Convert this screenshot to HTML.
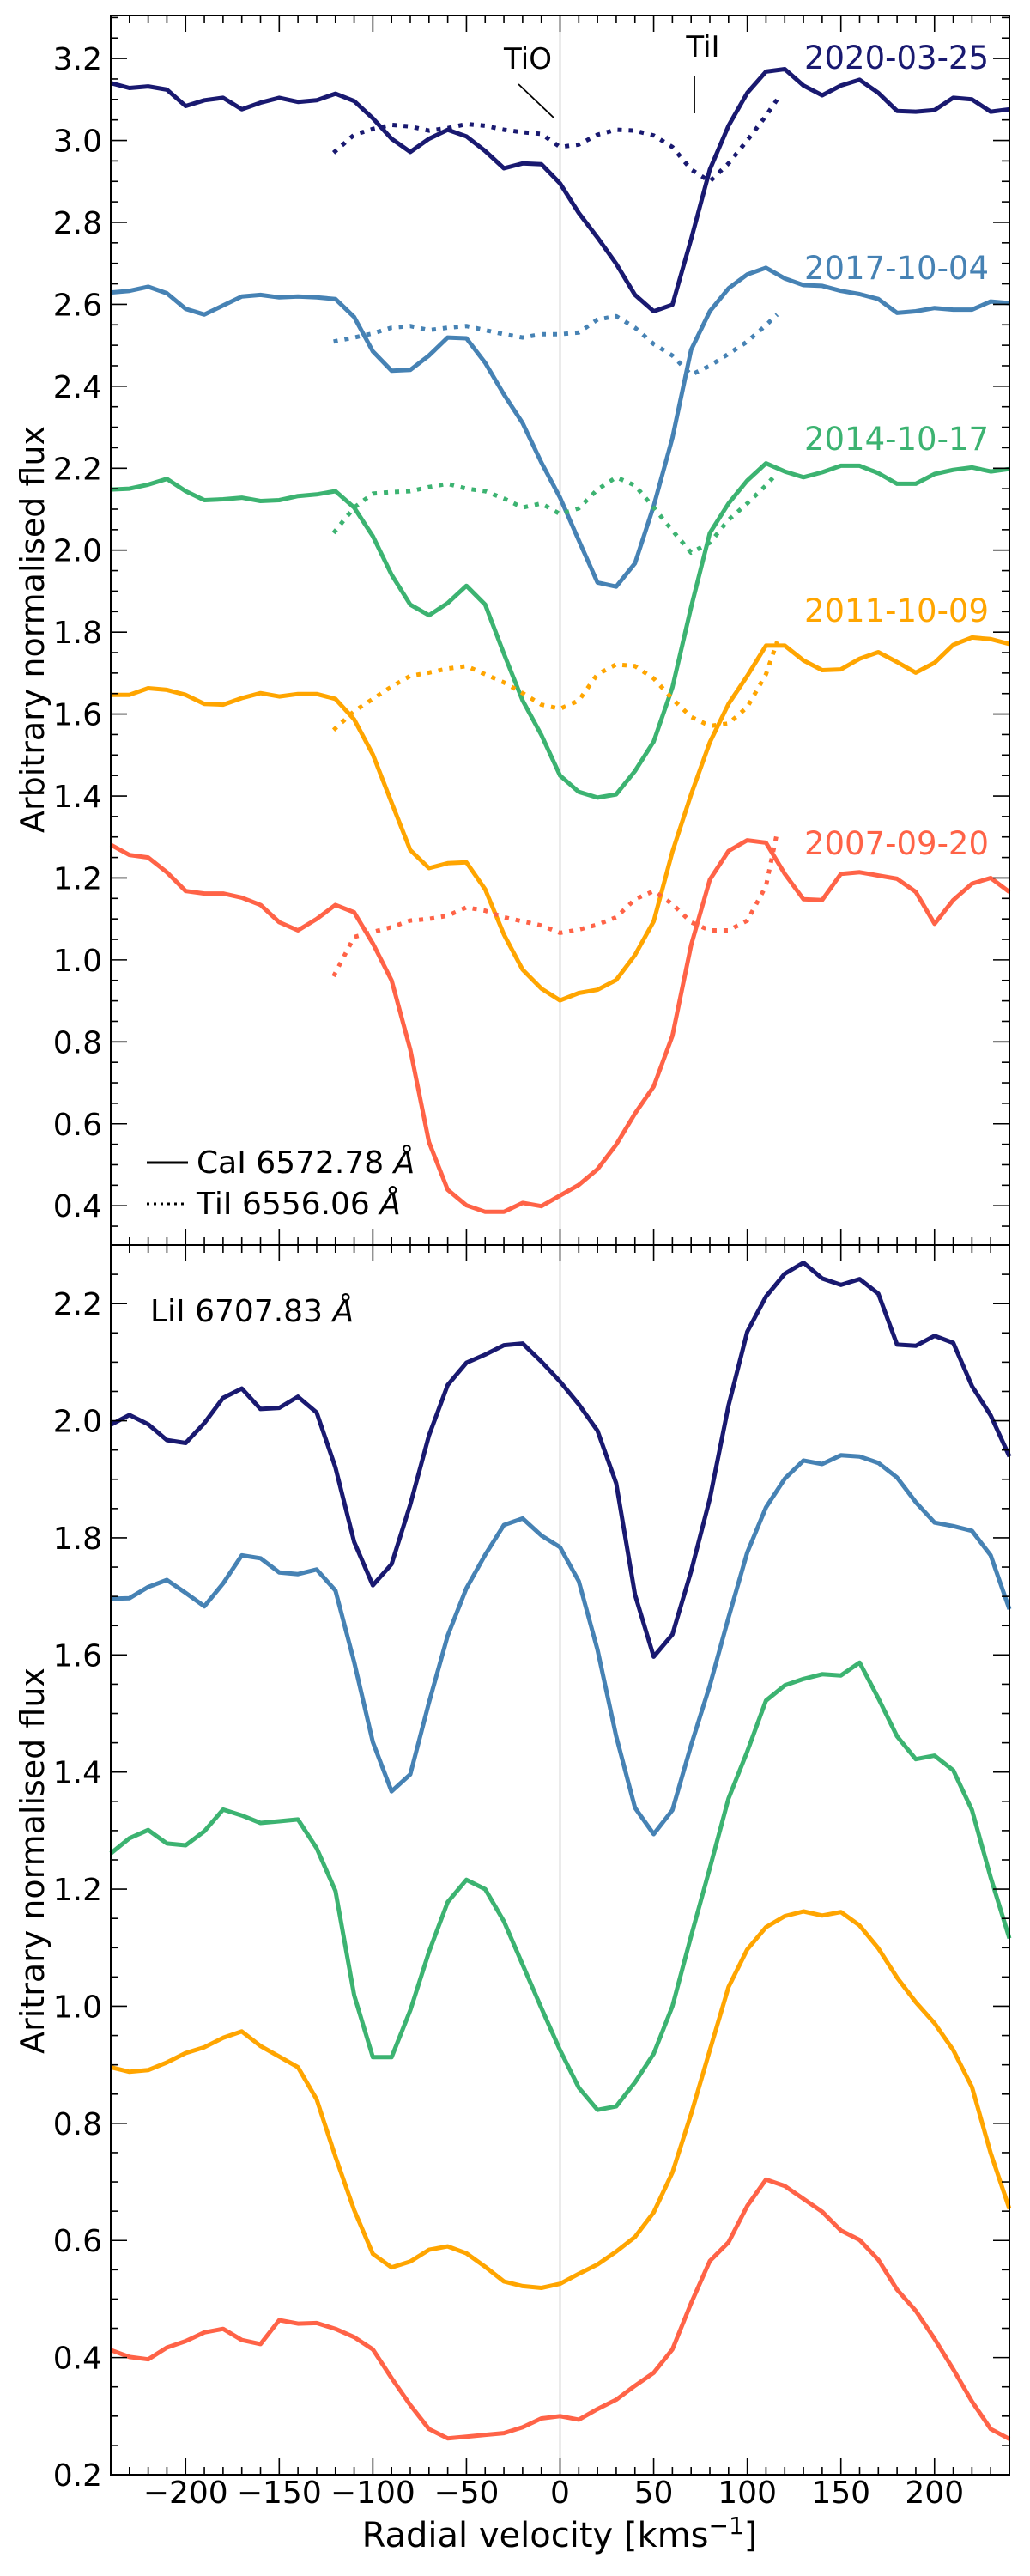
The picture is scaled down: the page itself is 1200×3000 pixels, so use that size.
<!DOCTYPE html>
<html><head><meta charset="utf-8"><style>
html,body{margin:0;padding:0;background:#fff;}
svg{display:block;font-family:"DejaVu Sans","Liberation Sans",sans-serif;}
</style></head><body>
<svg id="chart" width="1200" height="3000" viewBox="0 0 1200 3000" xmlns="http://www.w3.org/2000/svg">
<rect x="0" y="0" width="1200" height="3000" fill="#fff"/>
<g id="plots"></g>
</svg>
<script>
// ---- data ----
const velGrid = [-240,-230,-220,-210,-200,-190,-180,-170,-160,-150,-140,-130,-120,-110,-100,-90,-80,-70,-60,-50,-40,-30,-20,-10,0,10,20,30,40,50,60,70,80,90,100,110,120,130,140,150,160,170,180,190,200,210,220,230,240];
const velTi = [-121,-110,-100,-90,-80,-70,-60,-50,-40,-30,-20,-10,0,10,20,30,40,50,60,70,80,90,100,110,116];
const dates = ["2020-03-25","2017-10-04","2014-10-17","2011-10-09","2007-09-20"];
const colors = ["#191970","#4682b4","#3cb371","#ffa500","#ff6347"];

const ca2020 = [3.14,3.128,3.132,3.124,3.084,3.098,3.104,3.076,3.092,3.104,3.094,3.098,3.114,3.096,3.054,3.004,2.972,3.004,3.026,3.01,2.974,2.932,2.944,2.942,2.895,2.823,2.763,2.699,2.623,2.583,2.599,2.759,2.929,3.036,3.116,3.168,3.174,3.134,3.11,3.134,3.148,3.116,3.072,3.07,3.074,3.104,3.1,3.07,3.076];
const ca2017 = [2.629,2.633,2.643,2.627,2.589,2.575,2.597,2.619,2.623,2.617,2.619,2.617,2.613,2.569,2.485,2.438,2.44,2.475,2.519,2.517,2.457,2.38,2.31,2.214,2.128,2.024,1.921,1.911,1.968,2.108,2.274,2.489,2.583,2.639,2.673,2.689,2.663,2.647,2.645,2.633,2.625,2.613,2.579,2.583,2.591,2.587,2.587,2.607,2.603];
const ca2014 = [2.148,2.15,2.16,2.174,2.144,2.122,2.124,2.128,2.12,2.122,2.132,2.136,2.144,2.104,2.034,1.94,1.867,1.841,1.871,1.913,1.867,1.747,1.633,1.549,1.45,1.41,1.396,1.404,1.461,1.533,1.665,1.861,2.042,2.114,2.17,2.212,2.192,2.178,2.19,2.206,2.206,2.188,2.162,2.162,2.186,2.196,2.202,2.192,2.198];
const ca2011 = [1.647,1.647,1.663,1.659,1.647,1.625,1.623,1.639,1.651,1.643,1.649,1.649,1.637,1.587,1.501,1.384,1.268,1.224,1.236,1.238,1.172,1.062,0.976,0.93,0.901,0.919,0.927,0.951,1.012,1.094,1.264,1.404,1.531,1.625,1.693,1.767,1.767,1.731,1.707,1.709,1.735,1.751,1.727,1.701,1.725,1.769,1.787,1.783,1.771];
const ca2007 = [1.281,1.256,1.25,1.214,1.168,1.162,1.162,1.152,1.134,1.092,1.072,1.1,1.134,1.116,1.04,0.95,0.781,0.555,0.439,0.401,0.385,0.385,0.407,0.399,0.425,0.451,0.489,0.549,0.625,0.691,0.815,1.036,1.196,1.266,1.292,1.286,1.21,1.148,1.146,1.21,1.214,1.206,1.198,1.166,1.088,1.146,1.186,1.2,1.166];

const ti2020 = [2.97,3.014,3.028,3.038,3.034,3.024,3.03,3.04,3.036,3.026,3.02,3.016,2.984,2.99,3.014,3.026,3.024,3.012,2.984,2.929,2.9,2.944,3.0,3.06,3.1];
const ti2017 = [2.509,2.519,2.529,2.543,2.547,2.537,2.543,2.547,2.537,2.527,2.519,2.527,2.527,2.531,2.563,2.571,2.543,2.503,2.475,2.428,2.45,2.479,2.509,2.549,2.575];
const ti2014 = [2.042,2.104,2.138,2.142,2.144,2.154,2.162,2.15,2.144,2.126,2.104,2.114,2.088,2.102,2.148,2.178,2.158,2.104,2.048,1.994,2.018,2.074,2.114,2.158,2.188];
const ti2011 = [1.561,1.607,1.637,1.667,1.693,1.701,1.711,1.717,1.697,1.677,1.651,1.623,1.613,1.633,1.697,1.721,1.717,1.687,1.637,1.593,1.571,1.577,1.617,1.697,1.777];
const ti2007 = [0.96,1.056,1.068,1.08,1.096,1.1,1.108,1.128,1.12,1.104,1.094,1.084,1.066,1.074,1.086,1.104,1.148,1.168,1.136,1.092,1.072,1.072,1.096,1.18,1.312];

const li2020 = [1.993,2.01,1.994,1.967,1.962,1.996,2.039,2.055,2.02,2.022,2.041,2.014,1.92,1.793,1.719,1.755,1.857,1.975,2.061,2.099,2.113,2.129,2.132,2.101,2.067,2.028,1.983,1.893,1.703,1.597,1.635,1.743,1.867,2.026,2.152,2.212,2.251,2.27,2.243,2.232,2.242,2.217,2.13,2.128,2.145,2.133,2.059,2.009,1.939];
const li2017 = [1.696,1.697,1.716,1.728,1.706,1.683,1.722,1.77,1.765,1.741,1.738,1.746,1.71,1.588,1.451,1.367,1.396,1.519,1.633,1.714,1.771,1.822,1.833,1.804,1.784,1.726,1.609,1.461,1.339,1.294,1.335,1.446,1.548,1.664,1.775,1.852,1.901,1.932,1.926,1.941,1.939,1.928,1.903,1.861,1.826,1.82,1.812,1.77,1.678];
const li2014 = [1.261,1.287,1.301,1.278,1.275,1.299,1.336,1.326,1.313,1.316,1.319,1.27,1.197,1.019,0.913,0.913,0.993,1.093,1.178,1.216,1.2,1.145,1.071,0.997,0.925,0.861,0.823,0.829,0.87,0.919,1.0,1.12,1.236,1.355,1.435,1.522,1.548,1.559,1.567,1.565,1.587,1.526,1.461,1.422,1.428,1.403,1.335,1.22,1.116];
const li2011 = [0.896,0.888,0.891,0.904,0.92,0.93,0.946,0.957,0.932,0.914,0.896,0.841,0.743,0.652,0.577,0.554,0.564,0.584,0.59,0.578,0.555,0.53,0.522,0.519,0.526,0.543,0.559,0.581,0.606,0.648,0.716,0.816,0.925,1.033,1.097,1.135,1.154,1.162,1.155,1.161,1.138,1.099,1.049,1.007,0.971,0.925,0.862,0.749,0.654];
const li2007 = [0.413,0.401,0.397,0.417,0.428,0.443,0.449,0.43,0.423,0.464,0.458,0.459,0.449,0.435,0.414,0.365,0.319,0.278,0.262,0.265,0.268,0.271,0.281,0.296,0.3,0.294,0.312,0.328,0.352,0.374,0.414,0.493,0.565,0.597,0.659,0.704,0.693,0.671,0.649,0.617,0.601,0.567,0.516,0.48,0.432,0.38,0.325,0.278,0.261];

const xTicks = [-200,-150,-100,-50,0,50,100,150,200];
const xTickLabels = ["\u2212200","\u2212150","\u2212100","\u221250","0","50","100","150","200"];
const yTicksTop = [0.4,0.6,0.8,1.0,1.2,1.4,1.6,1.8,2.0,2.2,2.4,2.6,2.8,3.0,3.2];
const yTicksBot = [0.2,0.4,0.6,0.8,1.0,1.2,1.4,1.6,1.8,2.0,2.2];

// ---- layout ----
const NS = "http://www.w3.org/2000/svg";
const L = 129, R = 1176;
const xMin = -240, xMax = 240;
const top1 = {t:18, b:1450, ymin:0.304, ymax:3.305};
const top2 = {t:1450, b:2882, ymin:0.2, ymax:2.3};
function xs(v){ return L + (v - xMin) / (xMax - xMin) * (R - L); }
function ysF(p){ return v => p.b - (v - p.ymin) / (p.ymax - p.ymin) * (p.b - p.t); }
const y1 = ysF(top1), y2 = ysF(top2);
const root = document.getElementById('plots');
function mk(tag, attrs, parent){
  const e = document.createElementNS(NS, tag);
  for (const k in attrs) e.setAttribute(k, attrs[k]);
  (parent || root).appendChild(e);
  return e;
}
function txt(s, attrs, parent){ const e = mk('text', attrs, parent); e.textContent = s; return e; }

// zero line
const zl = mk('line', {x1:xs(0), x2:xs(0), y1:18, y2:2882, stroke:'#b0b0b0', 'stroke-width':1.5});



function poly(xv, yv, ys, color, dotted, name){
  const pts = xv.map((v,i)=> xs(v).toFixed(1)+','+ys(yv[i]).toFixed(1)).join(' ');
  const a = {points:pts, fill:'none', stroke:color, 'stroke-width':5, 'stroke-linejoin':'round'};
  if (dotted) a['stroke-dasharray'] = '5 8';
  const p = mk('polyline', a);
  
  
}
const caSets = [ca2020, ca2017, ca2014, ca2011, ca2007];
const tiSets = [ti2020, ti2017, ti2014, ti2011, ti2007];
const liSets = [li2020, li2017, li2014, li2011, li2007];
for (let i=0;i<5;i++){
  poly(velGrid, caSets[i], y1, colors[i], false, 'cai-line-'+dates[i]);
  poly(velTi, tiSets[i], y1, colors[i], true, 'tii-line-'+dates[i]);
  poly(velGrid, liSets[i], y2, colors[i], false, 'lii-line-'+dates[i]);
}

function axes(p, ys, yt, name, xlabels){
  const g = mk('g', {});
  
  
  mk('rect', {x:L, y:p.t, width:R-L, height:p.b-p.t, fill:'none', stroke:'#000', 'stroke-width':2}, g);
  // x ticks
  for (let v=-240; v<=240; v+=10){
    const major = v % 50 === 0;
    const len = major ? 19 : 9;
    const x = xs(v);
    mk('line', {x1:x, x2:x, y1:p.b, y2:p.b-len, stroke:'#000', 'stroke-width':1.6}, g);
    mk('line', {x1:x, x2:x, y1:p.t, y2:p.t+len, stroke:'#000', 'stroke-width':1.6}, g);
  }
  // y ticks
  const start = Math.ceil(p.ymin/0.05 - 1e-6);
  const end = Math.floor(p.ymax/0.05 + 1e-6);
  for (let k=start; k<=end; k++){
    const v = k*0.05;
    const major = Math.abs(v/0.2 - Math.round(v/0.2)) < 1e-6;
    const len = major ? 19 : 9;
    const y = ys(v);
    mk('line', {x1:L, x2:L+len, y1:y, y2:y, stroke:'#000', 'stroke-width':1.6}, g);
    mk('line', {x1:R, x2:R-len, y1:y, y2:y, stroke:'#000', 'stroke-width':1.6}, g);
  }
  yt.forEach(v=>{
    const t = txt(v.toFixed(1), {x:119, y:ys(v)+13, 'text-anchor':'end', 'font-size':36, fill:'#000'}, g);
    
    
  });
  if (xlabels){
    xTicks.forEach((v,i)=>{
      const t = txt(xTickLabels[i], {x:xs(v), y:2915, 'text-anchor':'middle', 'font-size':36, fill:'#000'}, g);
      
      
    });
  }
}
axes(top1, y1, yTicksTop, 'top-panel-axes', false);
axes(top2, y2, yTicksBot, 'bottom-panel-axes', true);

// labels
let t;
t = txt('Radial velocity [kms', {x:652, y:2966, 'text-anchor':'middle', 'font-size':40, fill:'#000'});
const sup = document.createElementNS(NS,'tspan'); sup.setAttribute('dy','-15'); sup.setAttribute('font-size','28'); sup.textContent='\u22121'; t.appendChild(sup);
const cl = document.createElementNS(NS,'tspan'); cl.setAttribute('dy','15'); cl.textContent=']'; t.appendChild(cl);



t = txt('Arbitrary normalised flux', {x:0, y:0, 'text-anchor':'middle', 'font-size':38, fill:'#000', transform:'translate(51,733) rotate(-90)'});


t = txt('Aritrary normalised flux', {x:0, y:0, 'text-anchor':'middle', 'font-size':38, fill:'#000', transform:'translate(51,2167) rotate(-90)'});



const dateY = [80,325,524,724,995];
dates.forEach((d,i)=>{
  const e = txt(d, {x:1152, y:dateY[i], 'text-anchor':'end', 'font-size':37, fill:colors[i]});
  
  
});

t = txt('TiO', {x:615, y:80, 'text-anchor':'middle', 'font-size':34, fill:'#000'});


let ln = mk('line', {x1:604, y1:98, x2:645, y2:137, stroke:'#000', 'stroke-width':1.8});


t = txt('TiI', {x:819, y:66, 'text-anchor':'middle', 'font-size':34, fill:'#000'});


ln = mk('line', {x1:809, y1:88, x2:809, y2:132, stroke:'#000', 'stroke-width':1.8});



// legend
const lg = mk('g', {});


mk('line', {x1:171, x2:219, y1:1354, y2:1354, stroke:'#000', 'stroke-width':3}, lg);
mk('line', {x1:171, x2:219, y1:1402, y2:1402, stroke:'#000', 'stroke-width':3, 'stroke-dasharray':'3 5'}, lg);
t = txt('CaI 6572.78 ', {x:229, y:1366, 'font-size':36, fill:'#000'}, lg);
let it = document.createElementNS(NS,'tspan'); it.setAttribute('font-style','italic'); it.textContent='Å'; t.appendChild(it);


t = txt('TiI 6556.06 ', {x:229, y:1414, 'font-size':36, fill:'#000'}, lg);
it = document.createElementNS(NS,'tspan'); it.setAttribute('font-style','italic'); it.textContent='Å'; t.appendChild(it);



t = txt('LiI 6707.83 ', {x:175, y:1539, 'font-size':36, fill:'#000'});
it = document.createElementNS(NS,'tspan'); it.setAttribute('font-style','italic'); it.textContent='Å'; t.appendChild(it);


</script>
</body></html>
